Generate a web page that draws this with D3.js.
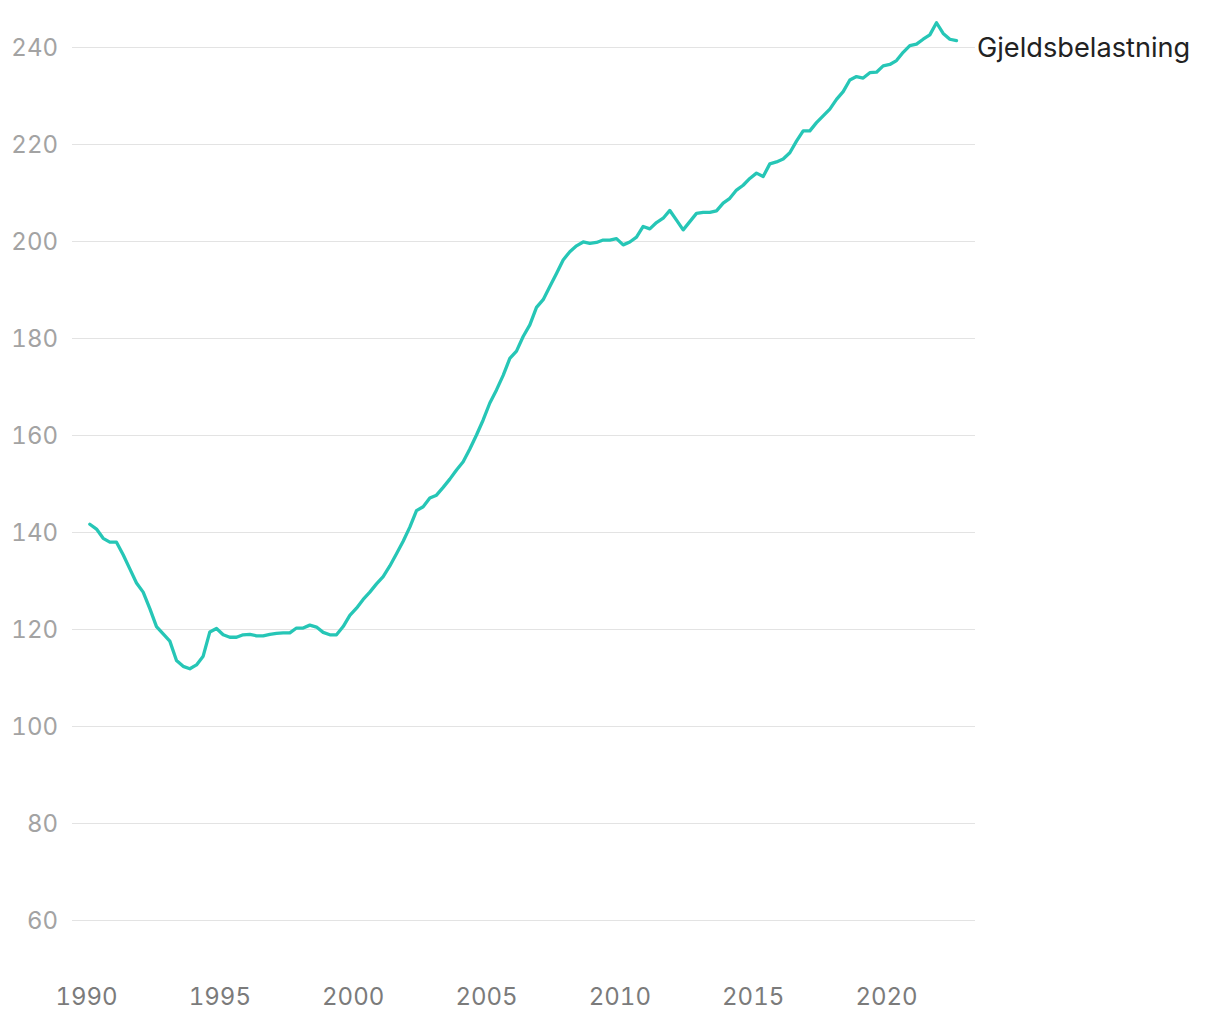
<!DOCTYPE html>
<html>
<head>
<meta charset="utf-8">
<script src="https://cdn.jsdelivr.net/npm/d3@7"></script>
<style>
  html, body { margin: 0; padding: 0; background: #fff; }
  svg { display: block; }
  text { font-variant-numeric: tabular-nums; font-feature-settings: "tnum" 1; }
</style>
</head>
<body>
<svg id="chart" width="1220" height="1020"></svg>
<script>
// Quarterly series, starting 1990 Q1, ending 2022 Q3
const seriesName = "Gjeldsbelastning";
const startYear = 1990;
const values = [
  141.6, 140.6, 138.7, 137.9, 137.9, 135.3, 132.4, 129.5, 127.6, 124.2,
  120.5, 119.0, 117.5, 113.5, 112.3, 111.8, 112.6, 114.4, 119.4, 120.1,
  118.8, 118.3, 118.3, 118.8, 118.9, 118.6, 118.6, 118.9, 119.1, 119.2,
  119.2, 120.2, 120.2, 120.8, 120.4, 119.3, 118.8, 118.8, 120.5, 122.8,
  124.3, 126.1, 127.6, 129.3, 130.8, 133.0, 135.5, 138.1, 141.0, 144.4,
  145.2, 147.0, 147.6, 149.2, 150.9, 152.8, 154.5, 157.1, 160.0, 163.1,
  166.6, 169.3, 172.3, 175.8, 177.3, 180.3, 182.7, 186.3, 187.9, 190.6,
  193.3, 196.1, 197.8, 199.0, 199.8, 199.5, 199.7, 200.2, 200.2, 200.5,
  199.2, 199.8, 200.8, 203.0, 202.5, 203.8, 204.7, 206.3, 204.3, 202.3,
  204.0, 205.7, 205.9, 205.9, 206.2, 207.8, 208.8, 210.5, 211.5, 212.9,
  214.0, 213.3, 215.9, 216.3, 216.9, 218.2, 220.6, 222.7, 222.7, 224.4,
  225.8, 227.2, 229.2, 230.8, 233.2, 233.9, 233.6, 234.7, 234.8, 236.1,
  236.4, 237.2, 238.9, 240.3, 240.6, 241.6, 242.5, 245.0, 242.8, 241.6,
  241.3
];
const yTicks = [60, 80, 100, 120, 140, 160, 180, 200, 220, 240];
const xTicks = [1990, 1995, 2000, 2005, 2010, 2015, 2020];

// quarter midpoints as decimal years
const data = values.map((v, i) => ({ t: startYear + (i + 0.5) / 4, v }));

const svg = d3.select("#chart");
const font = "Inter, 'Noto Sans', sans-serif";

const x = d3.scaleLinear().domain([1990, 2020]).range([86.5, 886.5]);
const y = d3.scaleLinear().domain([60, 240]).range([920, 47]);

const gridLeft = 72, gridRight = 975;

// gridlines + y labels
const gy = svg.append("g");
gy.selectAll("line").data(yTicks).join("line")
  .attr("x1", gridLeft).attr("x2", gridRight)
  .attr("y1", d => Math.round(y(d)) + 0.5).attr("y2", d => Math.round(y(d)) + 0.5)
  .attr("stroke", "#e3e3e3").attr("stroke-width", 1);
gy.selectAll("text").data(yTicks).join("text")
  .attr("x", 58).attr("y", d => y(d))
  .attr("dy", "0.36em")
  .attr("text-anchor", "end")
  .attr("font-family", font).attr("font-size", 24)
  .attr("fill", "#a3a3a3")
  .text(d => d);

// x labels
svg.append("g").selectAll("text").data(xTicks).join("text")
  .attr("x", d => x(d)).attr("y", 1005)
  .attr("text-anchor", "middle")
  .attr("font-family", font).attr("font-size", 24)
  .attr("fill", "#7b7b7b")
  .text(d => d);

// line
const line = d3.line().x(d => x(d.t)).y(d => y(d.v)).curve(d3.curveLinear);
svg.append("path").datum(data)
  .attr("d", line)
  .attr("fill", "none")
  .attr("stroke", "#26c6b6")
  .attr("stroke-width", 3.3)
  .attr("stroke-linejoin", "round")
  .attr("stroke-linecap", "round");

// series label
svg.append("text")
  .attr("x", 977).attr("y", y(240))
  .attr("dy", "0.36em")
  .attr("font-family", font).attr("font-size", 27.2)
  .attr("fill", "#222")
  .text(seriesName);
</script>
</body>
</html>
